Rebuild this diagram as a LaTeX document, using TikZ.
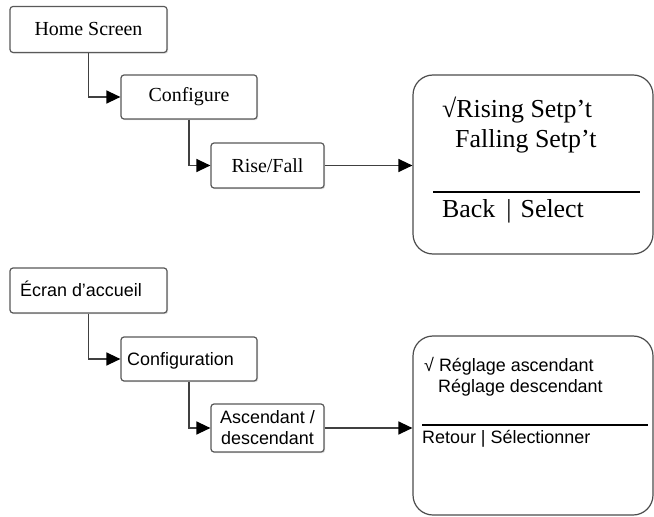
\documentclass[tikz,border=0pt]{standalone}
\usepackage{fontspec}
\setmainfont{Liberation Serif}
\newfontfamily\arial{Liberation Sans}
\usetikzlibrary{arrows.meta,shadows}
\tikzset{
  menubox/.style={draw=black!65, line width=1.2bp, rounded corners=3bp, fill=white,
    inner sep=0pt, drop shadow={opacity=0.25, shadow xshift=1.2bp, shadow yshift=-1.2bp}},
  screenbox/.style={draw=black!70, line width=1.2bp, rounded corners=20bp, fill=white, inner sep=0pt},
  link/.style={draw=black!75, line width=1.3bp, -{Triangle[length=14bp,width=13bp,color=black]}},
  rule/.style={draw=black, line width=2.6bp},
  txt/.style={inner sep=0pt, anchor=base west},
}
\begin{document}
\begin{tikzpicture}[x=1bp,y=-1bp]
\useasboundingbox (0,0) rectangle (654,517);
\fill[white] (0,0) rectangle (654,517);
% ---- top (English) ----
\node[menubox, minimum width=157bp, minimum height=46bp, font=\fontsize{20}{22}\selectfont] (home) at (88.5,29.5) {Home Screen};
\node[menubox, minimum width=136bp, minimum height=44bp, font=\fontsize{20}{22}\selectfont] (conf) at (189,97) {Configure};
\node[menubox, minimum width=113bp, minimum height=45bp, font=\fontsize{20}{22}\selectfont] (rise) at (267.5,165.5) {Rise/Fall};
\node[screenbox, minimum width=240bp, minimum height=179bp] (scr1) at (533,164.5) {};
\node[txt, font=\fontsize{26}{30}\selectfont] (t1) at (442,118) {√Rising Setp’t};
\node[txt, font=\fontsize{26}{30}\selectfont] (t2) at (455,148) {Falling Setp’t};
\coordinate (r1a) at (433,192);
\coordinate (r1b) at (640,192);
\draw[rule] (r1a) -- (r1b);
\node[txt, font=\fontsize{26}{30}\selectfont] (t3) at (442,218) {Back\hspace{11bp}|\hspace{9bp}Select};
\draw[link] (home.south) |- (conf.west);
\draw[link] (conf.south) |- (rise.west);
\draw[link] (rise.east) -- (rise.east -| scr1.west);
% ---- bottom (French) ----
\node[menubox, minimum width=157bp, minimum height=45bp] (ecran) at (88.5,290.5) {};
\node[txt, font=\arial\fontsize{18}{21}\selectfont] (ecrant) at (20,296) {Écran d’accueil};
\node[menubox, minimum width=136bp, minimum height=44bp] (config) at (189,359) {};
\node[txt, font=\arial\fontsize{18}{21}\selectfont] (configt) at (127,365) {Configuration};
\node[menubox, minimum width=113bp, minimum height=48bp, align=center, font=\arial\fontsize{18}{21}\selectfont] (asc) at (267.5,428) {Ascendant /\\descendant};
\node[screenbox, minimum width=240bp, minimum height=179bp] (scr2) at (533,425.5) {};
\node[txt, font=\arial\fontsize{18}{21}\selectfont] (u1) at (424,371) {√ Réglage ascendant};
\node[txt, font=\arial\fontsize{18}{21}\selectfont] (u2) at (438,392) {Réglage descendant};
\coordinate (r2a) at (422,425);
\coordinate (r2b) at (648,425);
\draw[rule, line width=2.2bp] (r2a) -- (r2b);
\node[txt, font=\arial\fontsize{18}{21}\selectfont] (u3) at (422,443) {Retour | Sélectionner};
\draw[link] (ecran.south) |- (config.west);
\draw[link] (config.south) |- (asc.west);
\draw[link] (asc.east) -- (asc.east -| scr2.west);
\end{tikzpicture}
\end{document}
